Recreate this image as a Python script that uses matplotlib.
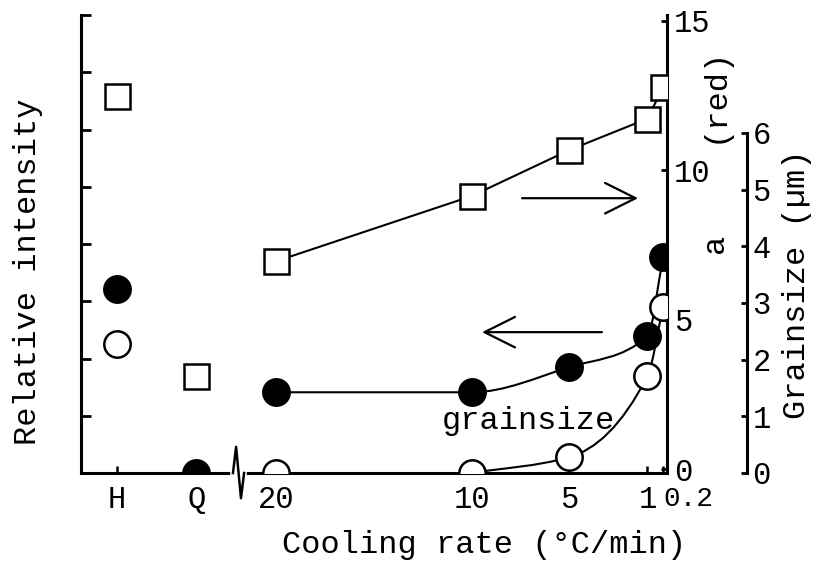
"""
plot.py — cooling-rate dependence of relative intensity, a (red) and grain size
"""

import matplotlib
matplotlib.use("Agg")
import matplotlib.pyplot as plt
import matplotlib.transforms as mtransforms
from matplotlib.path import Path
from matplotlib.patches import PathPatch
import numpy as np

plt.rcParams["font.family"] = ["Liberation Mono", "DejaVu Sans Mono"]

# ---------------------------------------------------------------------------
# data
# ---------------------------------------------------------------------------

SAMPLES = ["H", "Q"]               # off-scale samples left of the axis break
RATES = [20, 10, 5, 1, 0.2]        # cooling rate (°C/min)

# relative intensity (left axis) — filled circles
INT_SAMPLES = [3.21, 0.0]
INT_RATES = [1.41, 1.41, 1.85, 2.39, 3.77]

# a (red) (right axis) — open squares
RED_SAMPLES = [12.48, 3.11]
RED_RATES = [6.96, 9.14, 10.68, 11.73, 12.78]

# grainsize in µm (outer right axis) — open circles, only H has a sample value
GRAIN_H = [2.28]
GRAIN_RATES = [0.0, 0.0, 0.28, 1.71, 2.93]

TICK_LABELS = SAMPLES + [f"{r:g}" for r in RATES]

# where H / Q sit on the reversed rate axis, and where the axis is broken
SAMPLE_POS = [28.15, 24.1]
BREAK_X = [22.22, 22.06, 21.81, 21.65]
BREAK_Y = [0.0, 0.057, -0.055, 0.0]

W, H = 815, 568


def px(x, y):
    """pixel position -> figure fraction"""
    return x / W, 1 - y / H


def smooth_path(xs, ys):
    """monotone (PCHIP-style) cubic through the points, as Bezier segments"""
    x = np.asarray(xs, float)
    y = np.asarray(ys, float)
    h = np.diff(x)
    d = np.diff(y) / h
    m = np.zeros_like(y)
    m[0], m[-1] = d[0], d[-1]
    for k in range(1, len(x) - 1):
        if d[k - 1] * d[k] > 0:
            w1 = 2 * h[k] + h[k - 1]
            w2 = h[k] + 2 * h[k - 1]
            m[k] = (w1 + w2) / (w1 / d[k - 1] + w2 / d[k])
    verts, codes = [(x[0], y[0])], [Path.MOVETO]
    for k in range(len(x) - 1):
        verts += [(x[k] + h[k] / 3, y[k] + m[k] * h[k] / 3),
                  (x[k + 1] - h[k] / 3, y[k + 1] - m[k + 1] * h[k] / 3),
                  (x[k + 1], y[k + 1])]
        codes += [Path.CURVE4] * 3
    return Path(verts, codes)


# ---------------------------------------------------------------------------
# axes
# ---------------------------------------------------------------------------

fig = plt.figure(figsize=(W / 100, H / 100), dpi=100)
ax = fig.add_axes([81 / W, 1 - 473 / H, 586 / W, 458 / H])

ax.set_xlim(30, 0)
ax.set_ylim(0, 8)
ax.set_yticks(range(0, 9))
ax.set_yticklabels([])
for s in ("top", "right"):
    ax.spines[s].set_visible(False)
for s in ("left", "bottom"):
    ax.spines[s].set_linewidth(2.2)

ax.set_xticks(SAMPLE_POS + RATES, TICK_LABELS)
ax.tick_params(axis="x", direction="in", length=5, width=1.8, labelsize=22, pad=9)
ax.tick_params(axis="y", direction="in", length=7, width=2)
last = ax.get_xticklabels()[-1]
last.set_horizontalalignment("left")
last.set_fontsize(20)

ax_red = ax.twinx()
ax_red.set_ylim(-0.13, 15.2)
ax_red.set_yticks([0, 5, 10, 15])
for s in ("top", "left", "bottom"):
    ax_red.spines[s].set_visible(False)
ax_red.spines["right"].set_linewidth(2.2)
ax_red.tick_params(axis="y", direction="in", length=4, width=2, labelsize=22, pad=5)

ax_gr = ax.twinx()
ax_gr.set_ylim(0, 8.08)
ax_gr.set_yticks(range(0, 7))
for s in ("top", "left", "bottom"):
    ax_gr.spines[s].set_visible(False)
ax_gr.spines["right"].set_position(("axes", 1.1365))
ax_gr.spines["right"].set_bounds(0, 6)
ax_gr.spines["right"].set_linewidth(2.2)
ax_gr.tick_params(axis="y", direction="in", length=4, width=2, labelsize=22, pad=4)

# ---------------------------------------------------------------------------
# series
# ---------------------------------------------------------------------------

mk = dict(linestyle="none", markersize=19, markeredgecolor="k", markeredgewidth=1.8)

# relative intensity
ax.add_patch(PathPatch(smooth_path(RATES, INT_RATES), fc="none", ec="k", lw=1.5))
ax.plot(SAMPLE_POS, INT_SAMPLES, "o", markerfacecolor="k", zorder=3, **mk)
ax.plot(RATES, INT_RATES, "o", markerfacecolor="k", zorder=3, **mk)

# a (red)
ax_red.plot(RATES, RED_RATES, "-", color="k", lw=1.5)
ax_red.plot(SAMPLE_POS, RED_SAMPLES, "s", markerfacecolor="white", zorder=3,
            **{**mk, "markersize": 18})
ax_red.plot(RATES, RED_RATES, "s", markerfacecolor="white", zorder=3,
            **{**mk, "markersize": 18})

# grainsize — the curve starts where the grains first appear (10 °C/min)
ax_gr.add_patch(PathPatch(smooth_path(RATES[1:], GRAIN_RATES[1:]),
                          fc="none", ec="k", lw=1.5))
ax_gr.plot(SAMPLE_POS[:1], GRAIN_H, "o", markerfacecolor="white", zorder=3, **mk)
ax_gr.plot(RATES, GRAIN_RATES, "o", markerfacecolor="white", zorder=3, **mk)

# ---------------------------------------------------------------------------
# axis break, arrows, labels
# ---------------------------------------------------------------------------

trans = mtransforms.blended_transform_factory(ax.transData, ax.transAxes)
ax.plot([BREAK_X[0], BREAK_X[-1]], [0, 0], color="white", lw=4,
        transform=trans, clip_on=False, zorder=5)
ax.plot(BREAK_X, BREAK_Y, color="k", lw=1.8, transform=trans, clip_on=False, zorder=6)

arrow = dict(arrowstyle="->,head_length=1.1,head_width=0.55", lw=1.6, color="k",
             shrinkA=0, shrinkB=0, mutation_scale=20)
ax.annotate("", xy=(1.48, 4.80), xytext=(7.42, 4.80), arrowprops=arrow)
ax.annotate("", xy=(9.47, 2.46), xytext=(3.33, 2.46), arrowprops=arrow)

ax.text(7.1, 0.9, "grainsize", ha="center", va="center", fontsize=23)

fig.text(*px(28, 272), "Relative intensity", rotation=90, ha="center", va="center", fontsize=23)
fig.text(*px(484, 545), "Cooling rate (°C/min)", ha="center", va="center", fontsize=23)
fig.text(*px(715, 243), "a", rotation=90, ha="center", va="center", fontsize=23)
fig.text(*px(715, 95), "(red)", rotation=90, ha="center", va="center", fontsize=23)
fig.text(*px(797, 284), "Grainsize (µm)", rotation=90, ha="center", va="center", fontsize=23)

fig.savefig("out.png", dpi=100)
plt.close(fig)
